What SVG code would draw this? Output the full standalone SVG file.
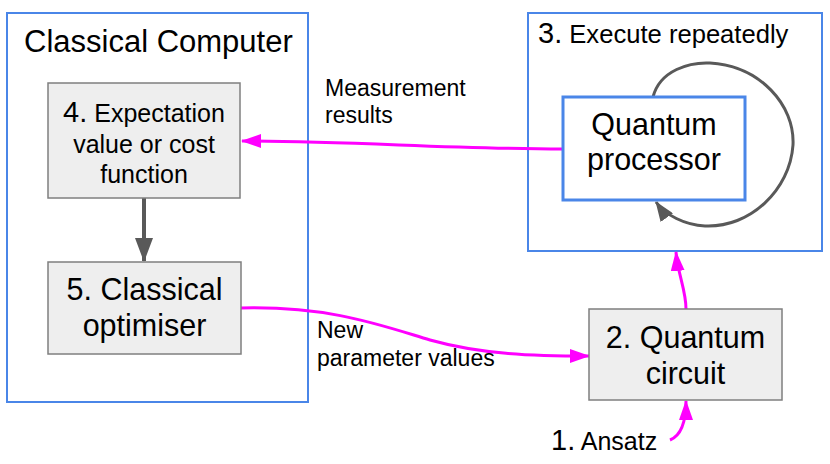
<svg xmlns="http://www.w3.org/2000/svg" width="830" height="464" viewBox="0 0 830 464">
<style>
text{font-family:"Liberation Sans",Arial,sans-serif;fill:#000}
.cont{fill:#fff;stroke:#4a86e8;stroke-width:2}
.qp{fill:#fff;stroke:#4a86e8;stroke-width:3}
.box{fill:#eeeeee;stroke:#7f7f7f;stroke-width:1.5}
.big{font-size:30.5px}
.mid{font-size:25px}
.num{font-size:29px}
.lbl{font-size:23px}
.mag{fill:none;stroke:#ff00ff;stroke-width:3}
.gry{fill:none;stroke:#595959}
</style>
<defs>
<marker id="am" markerWidth="20" markerHeight="14" refX="19" refY="7" orient="auto" markerUnits="userSpaceOnUse"><path d="M0,0 L20,7 L0,14 z" fill="#ff00ff"/></marker>
<marker id="ag" markerWidth="24" markerHeight="18" refX="23" refY="9" orient="auto" markerUnits="userSpaceOnUse"><path d="M0,0 L24,9 L0,18 z" fill="#595959"/></marker>
<marker id="ag2" markerWidth="20" markerHeight="15" refX="19" refY="7.5" orient="auto" markerUnits="userSpaceOnUse"><path d="M0,0 L20,7.5 L0,15 z" fill="#595959"/></marker>
</defs>
<g id="classical-computer">
<rect class="cont" x="7" y="13" width="301" height="389"/>
<text x="24" y="52" style="font-size:31px">Classical Computer</text>
</g>
<g id="execute-repeatedly">
<rect class="cont" x="528" y="13" width="294" height="238"/>
<text x="538" y="43"><tspan class="num">3.</tspan><tspan class="mid" style="font-size:25.6px"> Execute repeatedly</tspan></text>
</g>
<g id="connectors">
<path class="mag" d="M563 149 C450 149 350 141 242 141" marker-end="url(#am)"/>
<path class="mag" d="M241 308 C330 306 380 325 430 340 C480 354 530 356 589 356" marker-end="url(#am)"/>
<path class="mag" d="M686 309 C686 290 678 275 676 252" marker-end="url(#am)"/>
<path class="mag" d="M670 440 C680 436 686 425 686 401" marker-end="url(#am)"/>
<path class="gry" stroke-width="4" d="M144 198 L144 261" marker-end="url(#ag)"/>
<path class="gry" stroke-width="3" d="M653 97 C660 70 690 62 710 63 C760 66 795 105 793 145 C790 190 750 228 705 226 C685 225 665 215 656 202" marker-end="url(#ag2)"/>
</g>
<g id="quantum-processor">
<rect class="qp" x="563" y="97" width="182" height="103"/>
<text class="big" x="654" y="135" text-anchor="middle">Quantum</text>
<text class="big" x="654" y="170" text-anchor="middle">processor</text>
</g>
<g id="expectation">
<rect class="box" x="48" y="83" width="192" height="115"/>
<text x="144" y="122" text-anchor="middle"><tspan class="num">4.</tspan><tspan class="mid"> Expectation</tspan></text>
<text class="mid" x="144" y="153" text-anchor="middle">value or cost</text>
<text class="mid" x="144" y="183" text-anchor="middle">function</text>
</g>
<g id="optimiser">
<rect class="box" x="48" y="262" width="193" height="92"/>
<text class="big" x="144.5" y="300" text-anchor="middle">5. Classical</text>
<text class="big" x="144.5" y="336" text-anchor="middle">optimiser</text>
</g>
<g id="quantum-circuit">
<rect class="box" x="589" y="309" width="193" height="91"/>
<text class="big" x="685.5" y="348" text-anchor="middle">2. Quantum</text>
<text class="big" x="685.5" y="384" text-anchor="middle">circuit</text>
</g>
<g id="ansatz">
<text x="551" y="450"><tspan class="num">1.</tspan><tspan class="mid"> Ansatz</tspan></text>
</g>
<g id="labels">
<text class="lbl" x="325" y="96">Measurement</text>
<text class="lbl" x="325" y="123">results</text>
<text class="lbl" x="317" y="338">New</text>
<text class="lbl" x="317" y="366">parameter values</text>
</g>
</svg>
